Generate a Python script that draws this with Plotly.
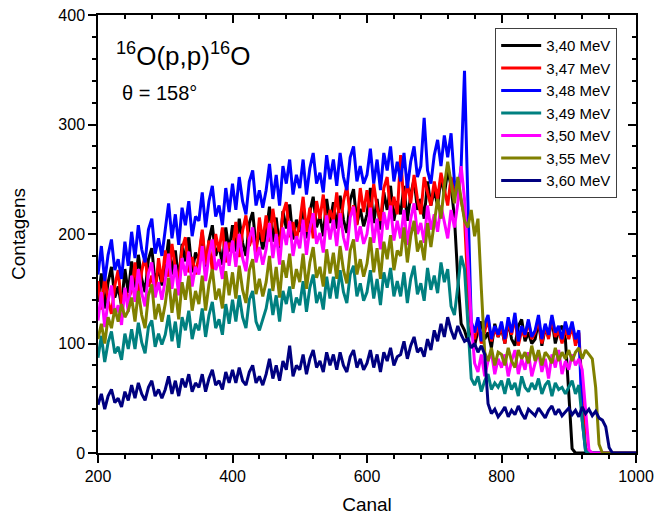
import plotly.graph_objects as go

canal = list(range(200, 1001, 5))

s340 = [138,164,132,156,170,142,152,134,168,146,
        175,151,181,159,147,177,187,155,169,153,
        171,195,163,185,157,191,175,197,165,183,
        176,202,170,194,208,180,190,172,206,184,
        208,184,214,192,180,210,220,188,202,186,
        201,225,193,215,187,221,205,227,195,213,
        202,228,196,220,234,206,216,198,232,210,
        229,205,235,213,201,231,241,209,223,207,
        218,242,210,232,204,238,222,244,212,230,
        218,244,212,236,250,222,232,214,248,226,
        240,226,252,236,258,244,215,160,118,112,
        102,116,98,112,120,104,110,96,118,106,
        114,100,120,104,98,116,122,102,110,100,
        104,120,98,114,106,122,100,112,116,104,
        55,4] + [0]*19

s347 = [157,131,161,139,127,153,167,135,149,141,
        148,174,142,166,180,152,162,144,178,156,
        185,161,191,169,157,187,197,165,179,163,
        180,204,172,194,166,200,184,206,174,192,
        185,211,179,203,217,189,199,181,215,193,
        217,193,223,201,189,219,229,197,211,195,
        210,234,202,224,196,230,214,236,204,222,
        212,238,206,230,244,216,226,208,242,220,
        240,216,246,224,212,242,252,220,234,218,
        272,224,248,228,254,232,218,252,238,226,
        248,232,256,240,226,252,238,246,230,215,
        150,112,104,118,100,112,122,102,114,106,
        116,100,120,108,124,98,112,106,120,104,
        110,122,100,116,104,124,106,112,100,114,
        104,116,98,110,60,5] + [0]*15

s348 = [163,189,157,181,195,167,177,159,193,171,
        202,178,208,186,174,204,214,182,196,180,
        204,228,196,218,190,224,208,230,198,216,
        212,238,206,230,244,216,226,208,242,220,
        246,222,252,230,218,248,258,226,240,224,
        240,264,232,254,226,262,246,268,236,254,
        242,268,236,260,274,246,256,238,272,250,
        268,244,274,252,240,270,280,248,262,246,
        254,278,246,268,240,274,258,280,248,266,
        248,274,242,266,280,252,262,306,258,246,
        272,286,262,290,270,292,248,236,262,349,
        230,120,110,124,102,118,126,104,116,108,
        120,104,124,110,128,102,116,108,122,106,
        112,126,104,118,108,126,110,116,104,120,
        108,120,104,112,30,2] + [0]*15

s349 = [87,107,83,101,111,91,97,85,109,95,
        113,95,119,101,91,115,121,97,109,99,
        108,126,102,120,96,124,112,130,104,118,
        112,132,106,126,138,114,122,108,136,118,
        140,120,144,124,114,140,148,120,112,122,
        132,150,126,144,120,148,136,152,128,142,
        135,157,129,151,163,137,147,131,161,141,
        161,141,167,147,137,163,171,143,155,139,
        147,167,141,159,135,165,151,169,143,157,
        143,165,137,159,171,145,155,139,169,149,
        162,146,174,156,168,134,126,152,180,168,
        120,68,62,70,56,66,72,58,64,60,
        66,54,68,58,64,52,70,60,56,64,
        58,68,54,62,66,52,64,58,60,54,
        60,66,54,62,30,2] + [0]*15

s350 = [121,147,115,139,153,125,135,117,151,129,
        162,138,168,146,134,164,174,142,156,140,
        158,182,150,172,144,178,162,184,152,170,
        163,189,157,181,195,167,177,159,193,171,
        194,170,200,178,166,196,206,174,188,172,
        186,210,178,200,172,206,190,212,180,198,
        187,213,181,205,219,191,201,183,217,195,
        213,189,219,197,185,215,225,193,207,191,
        200,224,192,214,186,220,204,226,194,212,
        196,222,190,214,228,200,210,192,226,204,
        218,202,226,210,196,222,206,228,262,232,
        180,120,82,74,90,70,84,92,72,86,
        78,90,70,84,94,72,86,76,92,70,
        82,92,74,86,68,90,78,94,72,84,
        76,90,80,86,76,40,3] + [0]*14

s355 = [104,118,100,124,114,132,120,136,124,130,
        142,120,148,126,114,144,154,122,136,120,
        136,160,128,150,122,156,140,162,130,148,
        136,162,130,154,168,140,150,132,166,144,
        165,141,171,149,137,167,177,145,159,143,
        156,180,148,170,142,176,160,182,150,168,
        156,182,150,174,188,160,170,152,186,164,
        183,159,189,167,155,185,195,163,177,161,
        173,197,165,187,159,193,177,199,167,185,
        180,206,174,198,212,184,194,176,210,188,
        210,232,214,244,266,246,228,252,234,212,
        206,222,198,214,150,92,84,96,80,92,
        90,80,96,84,78,94,86,92,82,98,
        84,94,80,92,88,82,96,84,92,86,
        94,84,92,96,86,94,90,86,60,8] + [0]*11

s360 = [44,54,40,52,58,46,50,42,56,48,
        62,50,64,54,48,60,66,52,58,50,
        58,70,54,66,52,68,60,72,56,64,
        60,72,56,68,76,62,66,58,74,64,
        76,64,78,66,62,74,80,64,70,62,
        72,86,68,80,66,84,76,98,70,80,
        76,90,72,86,94,78,84,74,92,80,
        90,76,92,80,74,88,94,78,86,76,
        82,94,78,90,74,92,84,96,80,88,
        90,102,86,98,106,92,96,88,104,94,
        112,102,118,106,124,112,104,116,108,102,
        104,96,100,92,98,90,45,36,40,33,
        37,42,33,39,35,43,36,31,40,37,
        34,41,36,32,39,43,35,40,34,38,
        41,35,39,33,42,36,40,34,38,32,
        30,24,5] + [0]*8

series = [s340, s347, s348, s349, s350, s355, s360]
labels = ["3,40 MeV", "3,47 MeV", "3,48 MeV", "3,49 MeV", "3,50 MeV", "3,55 MeV", "3,60 MeV"]
colors = ["#000000", "#FF0000", "#0000FF", "#008080", "#FF00FF", "#808000", "#000080"]

x_ticks = [200, 400, 600, 800, 1000]
y_ticks = [0, 100, 200, 300, 400]

FONT = "Liberation Sans, Arial, sans-serif"

fig = go.Figure()
for ys, lab, col in zip(series, labels, colors):
    fig.add_trace(go.Scatter(x=canal, y=ys, mode="lines", name=lab,
                             line=dict(color=col, width=3)))

# helper trace for mirrored inward-tick frame axes
fig.add_trace(go.Scatter(x=[None], y=[None], xaxis="x2", yaxis="y2",
                         showlegend=False, hoverinfo="skip"))

axis_common = dict(showgrid=False, zeroline=False, showline=True,
                   linecolor="#000000", linewidth=1.5, tickcolor="#000000",
                   tickwidth=1.5, automargin=False)

fig.update_layout(
    width=654, height=515,
    margin=dict(l=98, r=18, t=15, b=62),
    paper_bgcolor="white", plot_bgcolor="white",
    font=dict(family=FONT, size=16, color="#000000"),
    xaxis=dict(range=[200, 1000], tickvals=x_ticks, ticks="outside", ticklen=8,
               minor=dict(dtick=40, tick0=200, ticklen=4, ticks="outside",
                          tickcolor="#000000", tickwidth=1.5),
               title=dict(text="Canal", font=dict(size=19), standoff=14),
               tickfont=dict(size=16), ticklabeloverflow="allow", **axis_common),
    yaxis=dict(range=[0, 400], tickvals=y_ticks, ticks="outside", ticklen=8,
               minor=dict(dtick=20, tick0=0, ticklen=4, ticks="outside",
                          tickcolor="#000000", tickwidth=1.5),
               title=dict(text="Contagens", font=dict(size=19), standoff=28),
               tickfont=dict(size=16), ticklabeloverflow="allow", **axis_common),
    xaxis2=dict(range=[200, 1000], overlaying="x", side="top", anchor="y2",
                tickvals=x_ticks, ticks="inside", ticklen=8, showticklabels=False,
                minor=dict(dtick=40, tick0=200, ticklen=4, ticks="inside",
                           tickcolor="#000000", tickwidth=1.5),
                **axis_common),
    yaxis2=dict(range=[0, 400], overlaying="y", side="right", anchor="x2",
                tickvals=y_ticks, ticks="inside", ticklen=8, showticklabels=False,
                minor=dict(dtick=20, tick0=0, ticklen=4, ticks="inside",
                           tickcolor="#000000", tickwidth=1.5),
                **axis_common),
    legend=dict(x=0.965, y=0.97, xanchor="right", yanchor="top",
                bgcolor="white", bordercolor="#404040", borderwidth=1,
                font=dict(size=15), tracegroupgap=0, itemwidth=40),
    showlegend=True,
)

fig.add_annotation(xref="paper", yref="paper", x=0.03, y=0.909,
                   xanchor="left", yanchor="middle", showarrow=False,
                   text="<sup>16</sup>O(p,p)<sup>16</sup>O", font=dict(size=26))
fig.add_annotation(xref="paper", yref="paper", x=0.04, y=0.822,
                   xanchor="left", yanchor="middle", showarrow=False,
                   text="θ = 158°", font=dict(size=20))

# remove the default 8px page margin so the figure fills the window exactly
fig.write_html("out.html", config={"displayModeBar": False},
               post_script="document.body.style.margin='0';document.body.style.overflow='hidden';")
